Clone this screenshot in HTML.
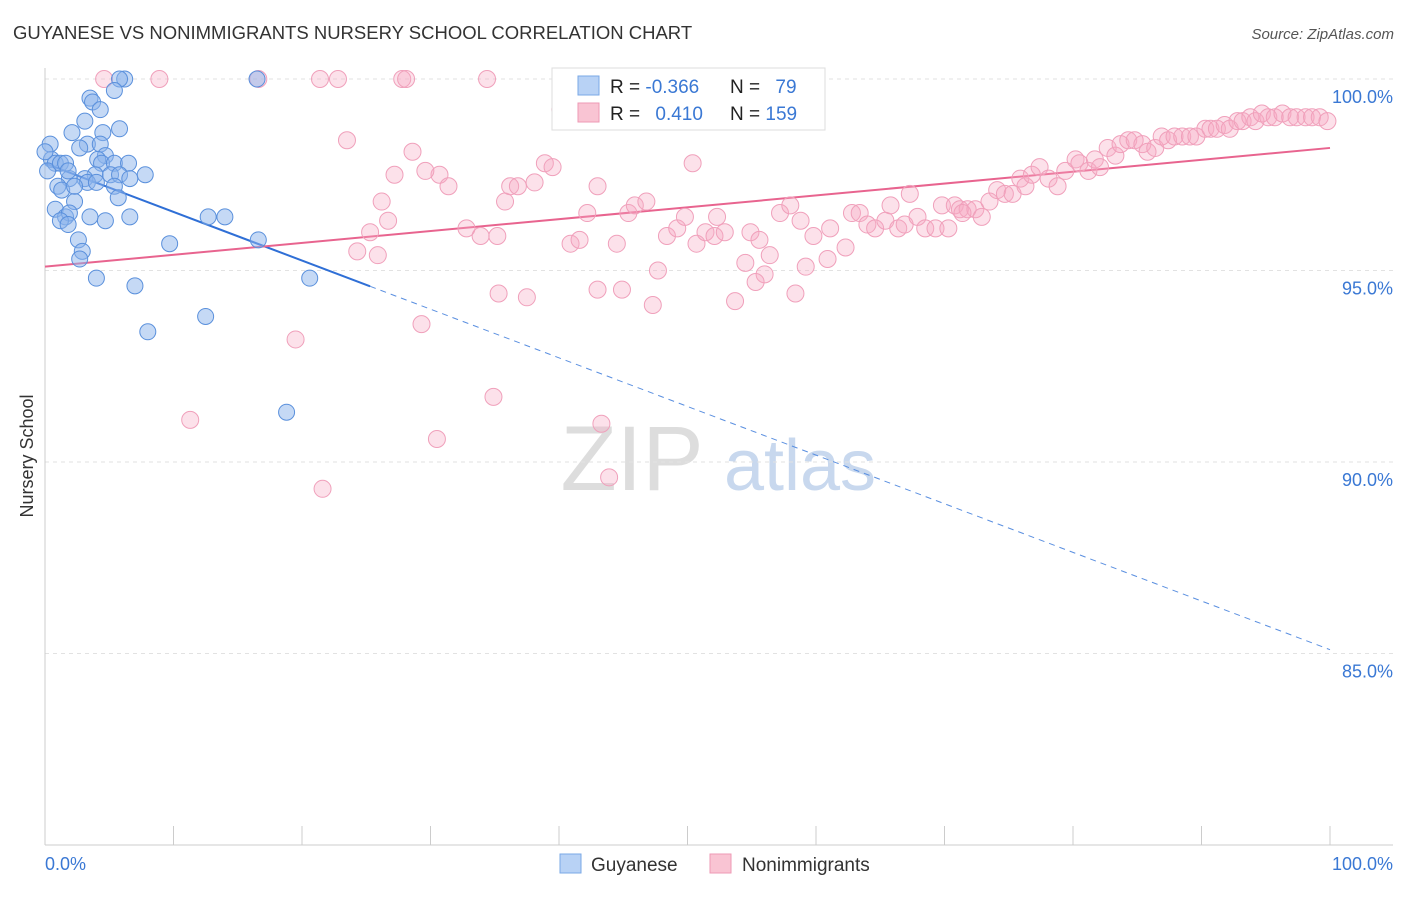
<!DOCTYPE html>
<html><head><meta charset="utf-8"><style>
body{margin:0;background:#fff;font-family:"Liberation Sans",sans-serif;}
svg text{font-family:"Liberation Sans",sans-serif;}
</style></head><body>
<svg id="chart" width="1406" height="892" viewBox="0 0 1406 892">
<text x="13" y="39" font-size="18.5" fill="#333">GUYANESE VS NONIMMIGRANTS NURSERY SCHOOL CORRELATION CHART</text>
<text x="1394" y="39" font-size="15" fill="#555" font-style="italic" text-anchor="end">Source: ZipAtlas.com</text>
<text x="33" y="456" font-size="18" fill="#333" transform="rotate(-90 33 456)" text-anchor="middle">Nursery School</text>
<g><text x="632" y="490" font-size="92" fill="#ddd" font-family="Liberation Serif" text-anchor="middle">ZIP</text><text x="800" y="490" font-size="72" fill="#c8d8ee" text-anchor="middle">atlas</text></g>
<g id="grid"></g><g id="axes"></g><g id="trend"></g><g id="pts"></g>
<g>
<rect x="552" y="68" width="273" height="62" fill="#fff" stroke="#ddd"/>
<rect x="578" y="76" width="21" height="19" fill="#b8d2f5" stroke="#7aa8e6"/>
<rect x="578" y="103" width="21" height="19" fill="#f9c4d3" stroke="#ee9ab5"/>
<text x="610" y="93" font-size="19" fill="#222">R = <tspan fill="#3a78d4">-0.366</tspan></text>
<text x="730" y="93" font-size="19" fill="#222">N = <tspan fill="#3a78d4" dx="10">79</tspan></text>
<text x="610" y="120" font-size="19" fill="#222">R = <tspan fill="#3a78d4" dx="10">0.410</tspan></text>
<text x="730" y="120" font-size="19" fill="#222">N = <tspan fill="#3a78d4">159</tspan></text>
</g>
<g>
<rect x="560" y="854" width="21" height="19" fill="#b8d2f5" stroke="#7aa8e6"/>
<text x="591" y="871" font-size="19" fill="#333">Guyanese</text>
<rect x="710" y="854" width="21" height="19" fill="#f9c4d3" stroke="#ee9ab5"/>
<text x="742" y="871" font-size="19" fill="#333">Nonimmigrants</text>
</g>
</svg>
<script>
const yTicks=[100,95,90,85];
const yTickLabels=["100.0%","95.0%","90.0%","85.0%"];
const xTickLabels=["0.0%","100.0%"];
const blueX=[0.4,0.5,0.8,0.2,1.2,1.6,1.9,1.0,1.3,2.3,0.8,1.6,1.9,1.2,1.8,2.6,2.9,2.7,3.5,4.7,6.6,4.0,7.0,8.0,12.5,9.7,16.6,20.6,18.8,12.7,14.0,6.2,5.8,5.4,16.5,3.5,3.7,4.3,3.1,5.8,2.1,4.5,3.3,4.3,2.7,4.7,4.1,4.4,5.4,6.5,3.9,5.1,5.8,7.8,6.6,3.1,3.3,4.0,5.4,5.7,2.3,0,1.8];
const blueY=[98.3,97.9,97.8,97.6,97.8,97.8,97.4,97.2,97.1,96.8,96.6,96.4,96.5,96.3,96.2,95.8,95.5,95.3,96.4,96.3,96.4,94.8,94.6,93.4,93.8,95.7,95.8,94.8,91.3,96.4,96.4,100,100,99.7,100,99.5,99.4,99.2,98.9,98.7,98.6,98.6,98.3,98.3,98.2,98.0,97.9,97.8,97.8,97.8,97.5,97.5,97.5,97.5,97.4,97.4,97.3,97.3,97.2,96.9,97.2,98.1,97.6];
const pinkX=[4.6,8.9,16.6,21.4,22.8,27.8,28.1,34.4,40.1,23.5,28.6,30.7,27.2,29.6,31.4,26.2,26.7,25.3,24.3,25.9,32.8,33.9,35.2,35.8,36.2,36.8,38.1,38.9,39.5,43.0,42.2,40.9,41.6,44.5,45.4,45.9,46.8,48.4,49.2,49.8,50.7,51.4,52.1,52.3,52.9,54.9,55.6,56.4,54.5,56.0,55.3,53.7,58.4,59.2,60.9,47.7,43.0,37.5,35.3,44.9,47.3,29.3,19.5,11.3,21.6,30.5,34.9,43.3,43.9,50.4,57.2,58.0,58.8,59.8,61.1,62.3,62.8,63.4,64.0,64.6,65.4,65.8,66.4,66.9,67.3,67.9,68.5,69.3,69.8,70.3,70.8,71.2,71.8,72.4,72.9,73.5,74.1,74.7,75.3,75.9,76.3,76.8,77.4,78.1,78.8,79.4,80.2,80.5,81.2,81.7,82.1,82.7,83.3,83.7,84.3,84.8,85.4,85.8,86.4,86.9,87.4,87.9,88.5,89.1,89.6,90.3,90.7,91.2,91.8,92.2,92.8,93.2,93.8,94.2,94.7,95.2,95.7,96.3,96.9,97.4,98.1,98.6,99.2,99.8,71.4];
const pinkY=[100,100,100,100,100,100,100,100,99.2,98.4,98.1,97.5,97.5,97.6,97.2,96.8,96.3,96.0,95.5,95.4,96.1,95.9,95.9,96.8,97.2,97.2,97.3,97.8,97.7,97.2,96.5,95.7,95.8,95.7,96.5,96.7,96.8,95.9,96.1,96.4,95.7,96.0,95.9,96.4,96.0,96.0,95.8,95.4,95.2,94.9,94.7,94.2,94.4,95.1,95.3,95.0,94.5,94.3,94.4,94.5,94.1,93.6,93.2,91.1,89.3,90.6,91.7,91.0,89.6,97.8,96.5,96.7,96.3,95.9,96.1,95.6,96.5,96.5,96.2,96.1,96.3,96.7,96.1,96.2,97.0,96.4,96.1,96.1,96.7,96.1,96.7,96.6,96.6,96.6,96.4,96.8,97.1,97.0,97.0,97.4,97.2,97.5,97.7,97.4,97.2,97.6,97.9,97.8,97.6,97.9,97.7,98.2,98.0,98.3,98.4,98.4,98.3,98.1,98.2,98.5,98.4,98.5,98.5,98.5,98.5,98.7,98.7,98.7,98.8,98.7,98.9,98.9,99.0,98.9,99.1,99.0,99.0,99.1,99.0,99.0,99.0,99.0,99.0,98.9,96.5];
const blueTrend=[97.8,85.1];
const blueSolidEnd=25.3;
const pinkTrend=[95.1,98.2];
const NS='http://www.w3.org/2000/svg';
const sx=v=>45+v*12.85;
const sy=v=>79+(100-v)*38.3;
function mk(tag,attrs,parent){const e=document.createElementNS(NS,tag);for(const k in attrs)e.setAttribute(k,attrs[k]);document.getElementById(parent).appendChild(e);return e;}
yTicks.forEach((t,i)=>{
 const g=mk('line',{x1:45,x2:1393,y1:sy(t),y2:sy(t),stroke:'#e2e2e2','stroke-dasharray':'4,4'},'grid');
 
 
 const l=mk('text',{x:1393,y:sy(t)+24,'font-size':18,fill:'#3a78d4','text-anchor':'end'},'axes');
 l.textContent=yTickLabels[i];
 
 
});
const ax=mk('line',{x1:45,x2:45,y1:68,y2:845,stroke:'#ccc'},'axes');


const bx=mk('line',{x1:45,x2:1393,y1:845,y2:845,stroke:'#ccc'},'axes');


for(let i=0;i<=10;i++){const t=mk('line',{x1:sx(i*10),x2:sx(i*10),y1:826,y2:845,stroke:'#ccc'},'axes');
 
 }
[[0,'start'],[100,'end']].forEach((p,i)=>{const t=mk('text',{x:i?1393:45,y:870,'font-size':18,fill:'#3a78d4','text-anchor':p[1]},'axes');t.textContent=xTickLabels[i];
 
 });
function by(x){return blueTrend[0]+(blueTrend[1]-blueTrend[0])*x/100;}
const b1=mk('line',{x1:sx(0),y1:sy(by(0)),x2:sx(blueSolidEnd),y2:sy(by(blueSolidEnd)),stroke:'#2f6fd6','stroke-width':2},'trend');


const b2=mk('line',{x1:sx(blueSolidEnd),y1:sy(by(blueSolidEnd)),x2:sx(100),y2:sy(by(100)),stroke:'#5a8fe0','stroke-width':1,'stroke-dasharray':'6,5'},'trend');


const p1=mk('line',{x1:sx(0),y1:sy(pinkTrend[0]),x2:sx(100),y2:sy(pinkTrend[1]),stroke:'#e8648f','stroke-width':2},'trend');


pinkX.forEach((x,i)=>{const c=mk('circle',{cx:sx(x),cy:sy(pinkY[i]),r:8.5,fill:'rgba(246,170,195,0.35)',stroke:'#f0a0bb','stroke-width':1},'pts');
 
 });
blueX.forEach((x,i)=>{const c=mk('circle',{cx:sx(x),cy:sy(blueY[i]),r:8,fill:'rgba(140,180,235,0.5)',stroke:'#5a90dc','stroke-width':1},'pts');
 
 });
</script>
</body></html>
